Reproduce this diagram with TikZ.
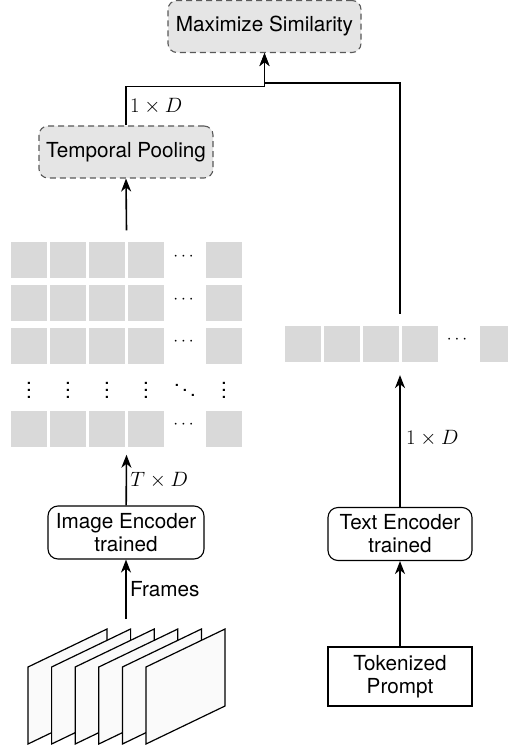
\documentclass[tikz,border=0pt]{standalone}
\usepackage{amsmath}
\usepackage{fontspec}
\setmainfont{TeX Gyre Heros}
\usetikzlibrary{matrix,positioning,arrows.meta}

\newcommand\hdts{{\fontsize{17}{20}\selectfont$\cdots$}}
\newcommand\vdts{\scalebox{1.8}{\fontsize{11.5}{13}\selectfont$\vdots$}}
\newcommand\ddts{\scalebox{1.7}{\fontsize{12}{14}\selectfont$\ddots$}}

\begin{document}
\begin{tikzpicture}[x=1pt,y=-1pt,font=\fontsize{20.7}{23}\selectfont,
   tmat/.style={matrix of nodes,nodes in empty cells,column sep=3pt,row sep=3pt,
   cells={nodes={fill=black!15,minimum size=36pt,inner sep=0pt}},inner sep=8pt},
   dbox/.style={draw=black!65,dash pattern=on 6pt off 4pt,line width=1.1pt,rounded corners=9pt,
   fill=black!10,minimum width=#1,minimum height=52pt},
   ebox/.style={draw,line width=1.1pt,rounded corners=10pt,align=center,minimum width=#1,minimum height=53pt},
   ebox/.default=144pt,
   conn/.style={line width=1.6pt,-{Stealth[length=13pt,width=10pt,inset=4pt]}},
   sheet/.style={draw,line width=1.2pt,fill=black!2,line join=miter}]
 \useasboundingbox (0,0) rectangle (507,751);

 % feature grid of the frames
 \matrix[tmat](feat) at (126.5,342.5){
         & & & & |[fill=none]|\hdts & \\
         & & & & |[fill=none]|\hdts & \\
         & & & & |[fill=none]|\hdts & \\
         |[fill=none]|\vdts & |[fill=none]|\vdts & |[fill=none]|\vdts & |[fill=none]|\vdts
         & |[fill=none]|\ddts & |[fill=none]|\vdts \\
         & & & & |[fill=none]|\hdts & \\
         };
 % text embedding
 \matrix[tmat](emb) at (400,342){
         & & & & |[fill=none]|\hdts & \\
         };

 \node[dbox=193pt](sim) at (264.5,26.5) {Maximize Similarity};
 \node[dbox=174pt](pool) at (126,152) {Temporal Pooling};
 \node[ebox=156pt](imgenc) at (126,532.5) {Image Encoder\\trained};
 \node[ebox](txtenc) at (400,534) {Text Encoder\\trained};
 \node[draw,line width=1.1pt,align=center,minimum width=144pt,minimum height=59pt](tok)
   at (400,676.5) {Tokenized\\Prompt};

 \foreach \i in {0,...,5}
   \draw[sheet] (28+23.6*\i,744) -- ++(0,-77) -- ++(79,-38) -- ++(0,77) -- cycle;
 \coordinate (frtop) at (126,619);

 \draw[conn] (frtop) -- node[right]{Frames} (imgenc);
 \draw[conn] (imgenc) -- node[right]{$T\times D$} (feat.south);
 \draw[conn] (feat.north) -- (pool.south);
 \draw[conn] (pool.north) -- node[right]{$1\times D$} ++(0,-39) -| (sim.south);
 \draw[conn] (emb.north) -- ++(0,-231) -| (sim.south);
 \draw[conn] (tok) -- (txtenc);
 \draw[conn,shorten >=5pt] (txtenc) -- node[right,xshift=2pt]{$1\times D$} (emb.south);
\end{tikzpicture}
\end{document}
